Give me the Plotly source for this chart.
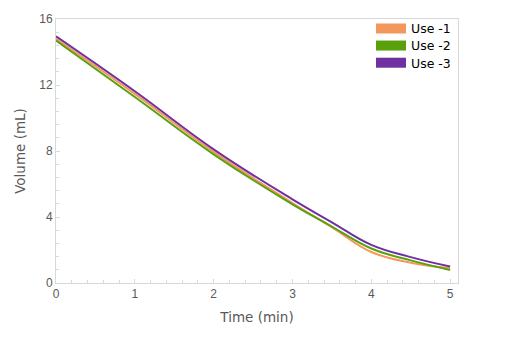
import plotly.graph_objects as go

time_min = [0, 1, 2, 3, 3.5, 4, 4.5, 5]
use_1 = [14.8, 11.46, 7.95, 4.85, 3.38, 1.88, 1.23, 0.91]
use_2 = [14.7, 11.27, 7.8, 4.77, 3.42, 2.09, 1.37, 0.79]
use_3 = [14.95, 11.62, 8.1, 5.07, 3.68, 2.31, 1.57, 1.0]
names = ["Use -1", "Use -2", "Use -3"]
colors = ["#F4975A", "#58A10D", "#7030A0"]
legend_ids = ["legend", "legend2", "legend3"]
legend_y = [0.963, 0.898, 0.833]

fig = go.Figure()
for name, ys, c in zip(names, [use_1, use_2, use_3], colors):
    fig.add_trace(go.Scatter(x=time_min, y=ys, mode="lines",
                             line=dict(color=c, width=2, shape="spline", smoothing=1.2),
                             showlegend=False, hoverinfo="skip"))
for name, c, lid in zip(names, colors, legend_ids):
    fig.add_trace(go.Scatter(x=[None], y=[None], mode="lines", name=name, legend=lid,
                             line=dict(color=c, width=10)))

axis_common = dict(showline=True, linecolor="#d9d9d9", linewidth=1, mirror=True,
                   showgrid=False, zeroline=False, ticks="inside", ticklen=4, tickcolor="#d9d9d9",
                   tickfont=dict(family="Liberation Sans, Arial", size=12, color="#595959"))

title_font = dict(family="DejaVu Sans", size=13.5, color="#595959")

legend_style = dict(x=0.995, xanchor="right", yanchor="middle", bgcolor="rgba(0,0,0,0)",
                    font=dict(family="DejaVu Sans", size=12.5, color="#000000"),
                    tracegroupgap=0, itemwidth=30)

fig.update_layout(
    width=512, height=344,
    margin=dict(l=56, r=54, t=15, b=61),
    paper_bgcolor="white", plot_bgcolor="white",
    xaxis=dict(range=[0, 5.1], dtick=1, tick0=0,
               minor=dict(dtick=0.2, ticks="inside", ticklen=3, tickcolor="#d9d9d9"),
               title=dict(text="Time (min)", font=title_font, standoff=12),
               **axis_common),
    yaxis=dict(range=[0, 16], dtick=4, tick0=0,
               minor=dict(dtick=0.8, ticks="inside", ticklen=3, tickcolor="#d9d9d9"),
               title=dict(text="Volume (mL)", font=title_font, standoff=10),
               **axis_common),
    legend=dict(y=legend_y[0], **legend_style),
    legend2=dict(y=legend_y[1], **legend_style),
    legend3=dict(y=legend_y[2], **legend_style),
    showlegend=True,
)

fig.write_html("out.html")
